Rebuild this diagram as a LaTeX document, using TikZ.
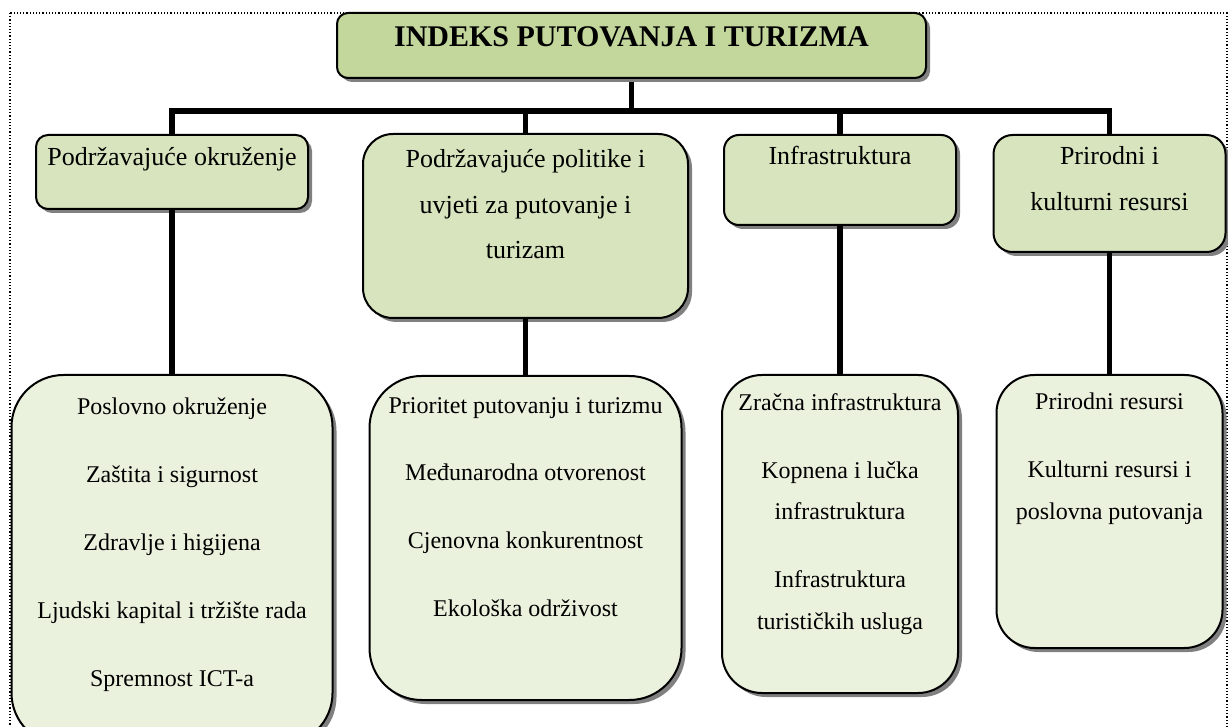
\documentclass[tikz,border=0pt]{standalone}
\usepackage{fontspec}
\setmainfont{Liberation Serif}
\usetikzlibrary{shadows}
\definecolor{headgreen}{HTML}{C3D69B}
\definecolor{areagreen}{HTML}{D7E4BD}
\definecolor{pillargreen}{HTML}{EAF1DD}

\begin{document}
\begin{tikzpicture}[x=0.5pt,y=-0.5pt,
  box/.style={draw,line width=1pt,inner sep=0pt,
    drop shadow={shadow xshift=2pt,shadow yshift=-2pt,fill=black!50,opacity=1}},
  headbox/.style={box,fill=headgreen},
  areabox/.style={box,fill=areagreen},
  pillarbox/.style={box,fill=pillargreen},
  headtext/.style={anchor=base,inner sep=0pt,font=\fontsize{15}{18}\selectfont\bfseries},
  areatext/.style={anchor=base,inner sep=0pt,align=center,font=\fontsize{13}{22.75}\selectfont},
  pillartext/.style={anchor=base,inner sep=0pt,align=center,font=\fontsize{12}{21}\selectfont},
  conn/.style={line width=2.8pt}]
\path[use as bounding box] (0,0) rectangle (1228,727);
\clip (0,0) rectangle (1228,727);

% frame
\draw[densely dotted,line width=0.6pt]  (10,13)  rectangle  (1227,760);

% connectors
\coordinate (split) at (631.5,111);
\coordinate (headfoot) at (631.5,78);
\draw[conn]  (headfoot)  --  (split);
\draw[conn]  (split)  -|  (172,135);
\draw[conn]  (split)  -|  (525.5,134);
\draw[conn]  (split)  -|  (840,135);
\draw[conn]  (split)  -|  (1109.5,135);

% index
\node [headbox,minimum width=294.5pt,minimum height=32.5pt,rounded corners=5.5pt] (idx) at (631.5,45.5) {};
\node [headtext] (idx-t) at (631.5,47) {INDEKS PUTOVANJA I TURIZMA};

% sub-indexes (text placed at the baseline of its last line)
\node [areabox,minimum width=136pt,minimum height=37pt,rounded corners=6pt] (env) at (172,172) {};
\node [areabox,minimum width=162.5pt,minimum height=92pt,rounded corners=15pt] (pol) at (525.5,226) {};
\node [areabox,minimum width=116pt,minimum height=45pt,rounded corners=7.5pt] (inf) at (840,180) {};
\node [areabox,minimum width=116pt,minimum height=58.5pt,rounded corners=9.5pt] (res) at (1109.5,193.5) {};

\node [areatext] (env-t) at (172,166) {Podržavajuće okruženje};
\node [areatext] (pol-t) at (525.5,259) {Podržavajuće politike i\\uvjeti za putovanje i\\turizam};
\node [areatext] (inf-t) at (840,165) {Infrastruktura};
\node [areatext] (res-t) at (1109.5,210.5) {Prirodni i\\kulturni resursi};

% pillars
\node [pillarbox,minimum width=160.5pt,minimum height=185pt,rounded corners=26pt] (envp) at (172,560) {};
\node [pillarbox,minimum width=156pt,minimum height=162pt,rounded corners=26pt] (polp) at (525.5,538) {};
\node [pillarbox,minimum width=118pt,minimum height=159pt,rounded corners=20pt] (infp) at (840,534) {};
\node [pillarbox,minimum width=113pt,minimum height=136.5pt,rounded corners=19pt] (resp) at (1109.5,511.5) {};

\draw[conn]  (env)  --  (envp);
\draw[conn]  (pol)  --  (polp);
\draw[conn]  (inf)  --  (infp);
\draw[conn]  (res)  --  (resp);

\node [pillartext] (envp-t) at (172,686) {Poslovno okruženje\\[13pt]Zaštita i sigurnost\\[13pt]Zdravlje i higijena\\[13pt]Ljudski kapital i tržište rada\\[13pt]Spremnost ICT-a};
\node [pillartext] (polp-t) at (525.5,617) {Prioritet putovanju i turizmu\\[13pt]Međunarodna otvorenost\\[13pt]Cjenovna konkurentnost\\[13pt]Ekološka održivost};
\node [pillartext] (infp-t) at (840,630) {Zračna infrastruktura\\[13pt]Kopnena i lučka\\infrastruktura\\[13pt]Infrastruktura\\turističkih usluga};
\node [pillartext] (resp-t) at (1109.5,520) {Prirodni resursi\\[13pt]Kulturni resursi i\\poslovna putovanja};

\end{tikzpicture}
\end{document}
